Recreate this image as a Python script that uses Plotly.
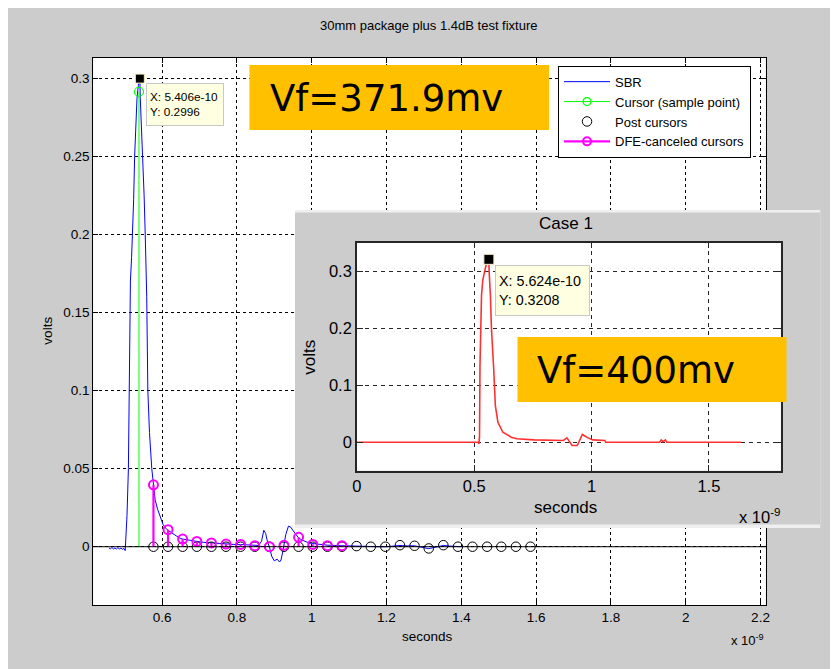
import plotly.graph_objects as go

# page body has an 8px margin: figure sized so that it fills the window exactly
W, H = 830, 661
OFF = 8

# ---------------- data (time in ns, amplitude in volts) ----------------
sbr_t = [0.458, 0.462, 0.466, 0.470, 0.474, 0.478, 0.482, 0.486, 0.490, 0.494, 0.498, 0.5015,
         0.502, 0.5063, 0.510, 0.5117, 0.5135, 0.5154, 0.5185, 0.5215, 0.524, 0.5267, 0.530,
         0.533, 0.5365, 0.5406, 0.5418, 0.5450, 0.5487, 0.5520, 0.555, 0.559, 0.562, 0.5664,
         0.5725, 0.577, 0.5815, 0.5880, 0.5947, 0.603, 0.612, 0.616, 0.625, 0.635, 0.645, 0.655,
         0.670, 0.693, 0.712, 0.732, 0.750, 0.771, 0.790, 0.810, 0.830, 0.848, 0.858, 0.866,
         0.872, 0.877, 0.882, 0.887, 0.893, 0.900, 0.908, 0.914, 0.918, 0.922, 0.926, 0.931,
         0.938, 0.944, 0.950, 0.957, 0.964, 0.972, 0.980, 0.990, 1.003, 1.020, 1.042, 1.060,
         1.081, 1.100, 1.120, 1.150, 1.180, 1.200, 1.236, 1.255, 1.275, 1.295, 1.313, 1.330,
         1.352, 1.370, 1.391, 1.400]
sbr_v = [-0.0008, -0.0013, -0.0005, -0.0014, -0.0008, -0.0015, -0.0006, -0.0014, -0.0009, -0.0016,
         -0.0011, -0.0025, 0.0, 0.020, 0.050, 0.100, 0.148, 0.170, 0.185, 0.200, 0.222, 0.250,
         0.270, 0.287, 0.295, 0.2996, 0.287, 0.270, 0.250, 0.225, 0.200, 0.160, 0.100, 0.073,
         0.050, 0.0396, 0.030, 0.024, 0.019, 0.014, 0.0112, 0.0105, 0.0088, 0.0072, 0.0058,
         0.0049, 0.0042, 0.0034, 0.0028, 0.0024, 0.0020, 0.0017, 0.0015, 0.0014, 0.0010, 0.0007,
         0.0008, 0.0035, 0.0105, 0.0085, 0.0030, 0.0, -0.0060, -0.0090, -0.0080, -0.0098,
         -0.0085, -0.0040, 0.0005, 0.0080, 0.0132, 0.0125, 0.0104, 0.0080, 0.0060, 0.0045,
         0.0035, 0.0027, 0.0020, 0.0014, 0.0010, 0.0008, 0.0006, 0.0004, 0.0004, 0.0002, 0.0,
         0.0, 0.0008, 0.0005, 0.0006, -0.0004, -0.0012, -0.0004, 0.0008, 0.0004, 0.0, 0.0]

cursor_t = [0.5383]
cursor_v = [0.2912]

post_t = [0.577, 0.616, 0.655, 0.693, 0.732, 0.771, 0.810, 0.848, 0.887, 0.926, 0.965, 1.003,
          1.042, 1.081, 1.120, 1.158, 1.197, 1.236, 1.275, 1.313, 1.352, 1.391, 1.430, 1.469,
          1.507, 1.546, 1.585]
post_v = [0.0, 0.0, 0.0, 0.0, 0.0, 0.0, 0.0, 0.0, 0.0, 0.0, 0.0, 0.0, 0.0, 0.0,
          0.0004, 0.0, 0.0, 0.0010, 0.0006, -0.0011, 0.0010, 0.0, 0.0, 0.0, 0.0, 0.0, 0.0]

dfe_t = [0.577, 0.616, 0.655, 0.693, 0.732, 0.771, 0.810, 0.848, 0.887, 0.926, 0.965, 1.003,
         1.042, 1.081]
dfe_v = [0.0396, 0.0109, 0.0049, 0.0034, 0.0024, 0.0017, 0.0015, 0.0007, 0.0, 0.0009, 0.0060,
         0.0015, 0.0007, 0.0007]

case1_t = [0.0, 0.517, 0.5198, 0.5225, 0.5245, 0.531, 0.5365, 0.542, 0.550, 0.5624, 0.5634,
           0.569, 0.5733, 0.583, 0.590, 0.601, 0.622, 0.658, 0.681, 0.755, 0.858, 0.880, 0.895,
           0.903, 0.910, 0.917, 0.939, 0.946, 0.961, 0.983, 1.005, 1.057, 1.060, 1.290, 1.297,
           1.305, 1.315, 1.320, 1.637]
case1_v = [0.0, 0.0, -0.003, 0.010, 0.134, 0.2575, 0.285, 0.298, 0.310, 0.3208, 0.300, 0.2575,
           0.200, 0.128, 0.064, 0.035, 0.0175, 0.0088, 0.006, 0.004, 0.003, 0.003, 0.0076, 0.002,
           -0.001, -0.0058, -0.0058, 0.0, 0.0136, 0.008, 0.004, 0.003, 0.0, 0.0, 0.004, 0.001,
           0.004, 0.0, 0.0]

main_xticks = [0.6, 0.8, 1.0, 1.2, 1.4, 1.6, 1.8, 2.0, 2.2]
main_xtext = ["0.6", "0.8", "1", "1.2", "1.4", "1.6", "1.8", "2", "2.2"]
main_yticks = [0.0, 0.05, 0.1, 0.15, 0.2, 0.25, 0.3]
main_ytext = ["0", "0.05", "0.1", "0.15", "0.2", "0.25", "0.3"]
inset_xticks = [0.0, 0.5, 1.0, 1.5]
inset_xtext = ["0", "0.5", "1", "1.5"]
inset_yticks = [0.0, 0.1, 0.2, 0.3]
inset_ytext = ["0", "0.1", "0.2", "0.3"]

title_text = "30mm package plus 1.4dB test fixture"
inset_title = "Case 1"
vf_main = "Vf=371.9mv"
vf_inset = "Vf=400mv"

# ---------------- helpers (window pixel -> paper fraction) ----------------
def px(x):
    return (x - OFF) / W

def py(y):
    return 1 - (y - OFF) / H

SANS = "Liberation Sans, Arial, Helvetica, sans-serif"
VERD = "DejaVu Sans, Verdana, sans-serif"
GREY = "#CCCCCC"
GRIDDASH = "3px,3px"

fig = go.Figure()

# ---------------- main axes traces ----------------
fig.add_trace(go.Scatter(x=sbr_t, y=sbr_v, mode="lines", name="SBR",
                         line=dict(color="#0000FF", width=1), legendrank=1,
                         xaxis="x", yaxis="y"))

fig.add_trace(go.Scatter(x=post_t, y=post_v, mode="markers", name="Post cursors",
                         marker=dict(symbol="circle-open", size=9.5, color="black",
                                     line=dict(width=1, color="black")),
                         legendrank=3, xaxis="x", yaxis="y"))

# cursor stem
cx, cy = [], []
for t, v in zip(cursor_t, cursor_v):
    cx += [t, t, None]
    cy += [0, v, None]
fig.add_trace(go.Scatter(x=cx, y=cy, mode="lines", line=dict(color="#00FF00", width=1),
                         showlegend=False, xaxis="x", yaxis="y"))
fig.add_trace(go.Scatter(x=cursor_t, y=cursor_v, mode="markers",
                         marker=dict(symbol="circle-open", size=9, color="#00FF00",
                                     line=dict(width=1.2, color="#00FF00")),
                         showlegend=False, xaxis="x", yaxis="y"))
fig.add_trace(go.Scatter(x=[None], y=[None], mode="lines+markers", name="Cursor (sample point)",
                         line=dict(color="#00FF00", width=1),
                         marker=dict(symbol="circle-open", size=8, color="#00FF00",
                                     line=dict(width=1.2, color="#00FF00")),
                         legendrank=2, xaxis="x", yaxis="y"))

# DFE canceled cursors stems
dx, dy = [], []
for t, v in zip(dfe_t, dfe_v):
    dx += [t, t, None]
    dy += [0, v, None]
fig.add_trace(go.Scatter(x=dx, y=dy, mode="lines", line=dict(color="#FF00FF", width=2.2),
                         showlegend=False, xaxis="x", yaxis="y"))
fig.add_trace(go.Scatter(x=dfe_t, y=dfe_v, mode="markers",
                         marker=dict(symbol="circle-open", size=9, color="#FF00FF",
                                     line=dict(width=2, color="#FF00FF")),
                         showlegend=False, xaxis="x", yaxis="y"))
fig.add_trace(go.Scatter(x=[None], y=[None], mode="lines+markers", name="DFE-canceled cursors",
                         line=dict(color="#FF00FF", width=2.2),
                         marker=dict(symbol="circle-open", size=8, color="#FF00FF",
                                     line=dict(width=2, color="#FF00FF")),
                         legendrank=4, xaxis="x", yaxis="y"))

# datatip marker on SBR peak
ipk = max(range(len(sbr_v)), key=lambda i: sbr_v[i])
fig.add_trace(go.Scatter(x=[sbr_t[ipk]], y=[sbr_v[ipk]], mode="markers",
                         marker=dict(symbol="square", size=9, color="black",
                                     line=dict(width=1, color="#F5F0C0")),
                         showlegend=False, xaxis="x", yaxis="y"))

# ---------------- panel subplot (grey background of the inset figure) ----------------
fig.add_trace(go.Scatter(x=[], y=[], showlegend=False, xaxis="x2", yaxis="y2"))

# ---------------- inset axes ----------------
fig.add_trace(go.Scatter(x=case1_t, y=case1_v, mode="lines",
                         line=dict(color="#FF3030", width=1.6),
                         showlegend=False, xaxis="x3", yaxis="y3"))
jpk = max(range(len(case1_v)), key=lambda i: case1_v[i])
fig.add_trace(go.Scatter(x=[case1_t[jpk]], y=[case1_v[jpk]], mode="markers",
                         marker=dict(symbol="square", size=10, color="black",
                                     line=dict(width=1, color="#F5F0C0")),
                         showlegend=False, xaxis="x3", yaxis="y3"))

# ---------------- axes ----------------
main_font = dict(family=SANS, size=13.5, color="black")
inset_font = dict(family=SANS, size=16.5, color="black")

common_main = dict(showline=True, linecolor="black", linewidth=1, mirror="ticks",
                   ticks="inside", ticklen=5, tickcolor="black", showgrid=True,
                   gridcolor="black", griddash=GRIDDASH, gridwidth=1, zeroline=False,
                   tickfont=main_font, fixedrange=True)
common_inset = dict(showline=True, linecolor="#262626", linewidth=1.5, mirror="ticks",
                    ticks="inside", ticklen=6, tickcolor="#262626", showgrid=True,
                    gridcolor="#262626", griddash="4px,4px", gridwidth=1.2, zeroline=False,
                    tickfont=inset_font, fixedrange=True)

fig.update_layout(
    xaxis=dict(domain=[px(89), px(769)], range=[0.4157, 2.214], tickvals=main_xticks,
               ticktext=main_xtext, anchor="y", **common_main),
    yaxis=dict(domain=[py(605), py(58)], range=[-0.0373, 0.3128], tickvals=main_yticks,
               ticktext=main_ytext, anchor="x", **common_main),
    xaxis2=dict(domain=[px(293), px(824)], range=[0, 1], visible=False, anchor="y2",
                fixedrange=True),
    yaxis2=dict(domain=[py(528), py(210)], range=[0, 1], visible=False, anchor="x2",
                fixedrange=True),
    xaxis3=dict(domain=[px(355.7), px(784.3)], range=[0, 1.807], tickvals=inset_xticks,
                ticktext=inset_xtext, anchor="y3", **common_inset),
    yaxis3=dict(domain=[py(470.7), py(242.7)], range=[-0.05, 0.35], tickvals=inset_yticks,
                ticktext=inset_ytext, anchor="x3", **common_inset),
)

# ---------------- shapes ----------------
shapes = [
    # inset panel background
    dict(type="rect", xref="x2", yref="y2", x0=0, x1=1, y0=0, y1=1,
         fillcolor=GREY, line=dict(width=0), layer="below"),
    dict(type="rect", xref="x2", yref="y2", x0=0, x1=1, y0=1 - 2.5 / 318, y1=1,
         fillcolor="#EFEFEF", line=dict(width=0), layer="below"),
    dict(type="rect", xref="x2", yref="y2", x0=0, x1=1, y0=0, y1=3.5 / 318,
         fillcolor="#EFEFEF", line=dict(width=0), layer="below"),
    # stem baseline
    dict(type="line", xref="x domain", yref="y", x0=0, x1=1, y0=0, y1=0,
         line=dict(color="black", width=1), layer="above"),
    # orange callout boxes
    dict(type="rect", xref="paper", yref="paper", x0=px(247), x1=px(550), y0=py(130), y1=py(65),
         fillcolor="#FFC000", line=dict(width=0), layer="above"),
    dict(type="rect", xref="paper", yref="paper", x0=px(518), x1=px(790), y0=py(402), y1=py(337),
         fillcolor="#FFC000", line=dict(width=0), layer="above"),
]
fig.update_layout(shapes=shapes)

# ---------------- annotations ----------------
def ann(text, x, y, size, family=SANS, xanchor="center", yanchor="middle", angle=0, **kw):
    return dict(text=text, x=px(x), y=py(y), xref="paper", yref="paper", showarrow=False,
                xanchor=xanchor, yanchor=yanchor, textangle=angle,
                font=dict(family=family, size=size, color="black"), **kw)

tip_main = "X: %.4g<br>Y: %.4f" % (sbr_t[ipk] * 1e-9, sbr_v[ipk])
tip_inset = "X: %.4g<br>Y: %.4f" % (case1_t[jpk] * 1e-9, case1_v[jpk])

annotations = [
    ann(title_text, 429, 25, 13),
    ann("seconds", 427, 636, 13.5),
    ann("volts", 42, 331, 13.5, angle=-90),
    ann("x 10<sup>-9</sup>", 732, 640, 13, xanchor="left"),
    ann(vf_main, 266, 98, 37, family=VERD, xanchor="left"),
    ann(vf_inset, 536, 370, 37, family=VERD, xanchor="left"),
    ann(tip_main, 142.7, 83, 11.8, xanchor="left", yanchor="top", align="left",
        bgcolor="#FFFFE1", bordercolor="#C8C8C8", borderwidth=1, borderpad=3,
        width=70, height=35),
    ann(inset_title, 567, 223, 17),
    ann("seconds", 567, 508, 17),
    ann("volts", 307, 357, 17, angle=-90),
    ann("x 10<sup>-9</sup>", 740, 516, 16.5, xanchor="left"),
    ann(tip_inset, 495.6, 265, 14.3, xanchor="left", yanchor="top", align="left",
        bgcolor="#FFFFE1", bordercolor="#C8C8C8", borderwidth=1, borderpad=3,
        width=87, height=43),
]
fig.update_layout(annotations=annotations)

fig.update_layout(
    width=W, height=H, margin=dict(l=0, r=0, t=0, b=0),
    paper_bgcolor=GREY, plot_bgcolor="white", hovermode=False,
    showlegend=True,
    legend=dict(x=px(559), y=py(65.7), xanchor="left", yanchor="top",
                bgcolor="white", bordercolor="black", borderwidth=1,
                font=dict(family=SANS, size=13, color="black"),
                itemwidth=46, tracegroupgap=0),
)

fig.write_html("out.html")
